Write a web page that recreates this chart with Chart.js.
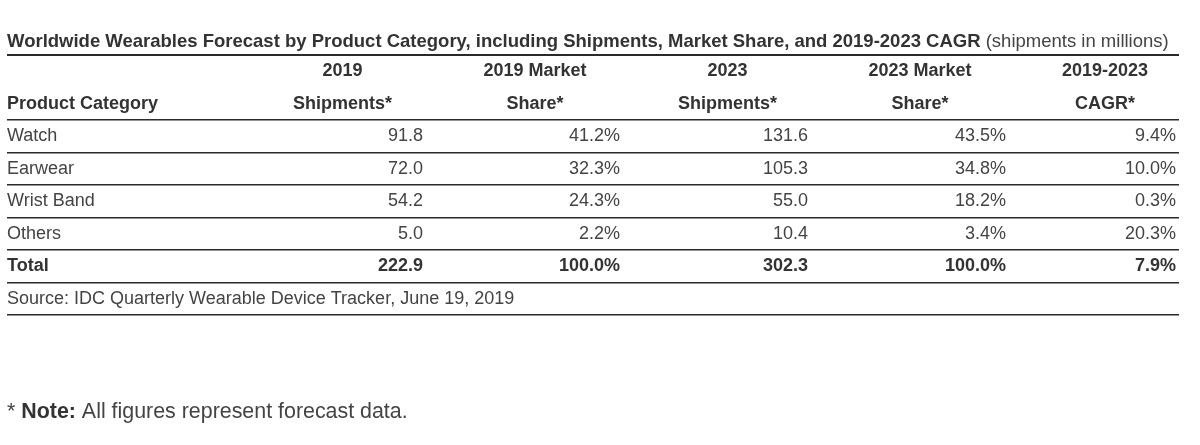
<!DOCTYPE html>
<html>
<head>
<meta charset="utf-8">
<script src="https://cdn.jsdelivr.net/npm/chart.js@4.4.1/dist/chart.umd.min.js"></script>
<style>
  html,body{margin:0;padding:0;background:#fff;}
  #wrap{width:1200px;height:445px;position:relative;}
</style>
</head>
<body>
<div id="wrap"><canvas id="c"></canvas></div>
<script>
// ---- data ----
const titleBold = 'Worldwide Wearables Forecast by Product Category, including Shipments, Market Share, and 2019-2023 CAGR';
const titleNormal = ' (shipments in millions)';
const firstHeader = 'Product Category';
const headerLine1 = ['2019', '2019 Market', '2023', '2023 Market', '2019-2023'];
const headerLine2 = ['Shipments*', 'Share*', 'Shipments*', 'Share*', 'CAGR*'];
const categories = ['Watch', 'Earwear', 'Wrist Band', 'Others'];
const shipments2019 = [91.8, 72.0, 54.2, 5.0];
const share2019 = [41.2, 32.3, 24.3, 2.2];
const shipments2023 = [131.6, 105.3, 55.0, 10.4];
const share2023 = [43.5, 34.8, 18.2, 3.4];
const cagr = [9.4, 10.0, 0.3, 20.3];
const totalLabel = 'Total';
const totalRow = [222.9, 100.0, 302.3, 100.0, 7.9];
const sourceText = 'Source: IDC Quarterly Wearable Device Tracker, June 19, 2019';
const noteStar = '* ';
const noteBold = 'Note:';
const noteText = ' All figures represent forecast data.';

// ---- layout (scale units along x) ----
const columns = [
  {values: shipments2019, pct: false, right: 416, center: 335.5},
  {values: share2019,     pct: true,  right: 613, center: 528},
  {values: shipments2023, pct: false, right: 801, center: 720.5},
  {values: share2023,     pct: true,  right: 999, center: 913},
  {values: cagr,          pct: true,  right: 1169, center: 1098}
];
const rowKeys = ['h1', 'h2', ...categories, totalLabel, 'source'];

const FONT = '"Liberation Sans", Arial, Helvetica, sans-serif';
const SIZE = 18;
const TITLE_SIZE = 18.5;
const NOTE_SIZE = 21.4;
const fmt = (v, pct) => v.toFixed(1) + (pct ? '%' : '');

const tablePlugin = {
  id: 'tableText',
  afterDraw(chart) {
    const {ctx, scales: {x, y}, chartArea} = chart;
    ctx.save();
    const left = x.getPixelForValue(0);
    // title
    ctx.textBaseline = 'alphabetic';
    ctx.textAlign = 'left';
    ctx.fillStyle = '#333';
    ctx.font = 'bold ' + TITLE_SIZE + 'px ' + FONT;
    ctx.fillText(titleBold, left, chartArea.top - 8);
    const w = ctx.measureText(titleBold).width;
    ctx.font = TITLE_SIZE + 'px ' + FONT;
    ctx.fillStyle = '#444';
    ctx.fillText(titleNormal, left + w, chartArea.top - 8);

    ctx.textBaseline = 'middle';
    // header
    const yh1 = y.getPixelForValue(0), yh2 = y.getPixelForValue(1);
    ctx.fillStyle = '#333';
    ctx.font = 'bold ' + SIZE + 'px ' + FONT;
    ctx.textAlign = 'left';
    ctx.fillText(firstHeader, left, yh2);
    ctx.textAlign = 'center';
    columns.forEach((c, i) => {
      const cx = x.getPixelForValue(c.center);
      ctx.fillText(headerLine1[i], cx, yh1);
      ctx.fillText(headerLine2[i], cx, yh2);
    });
    // body rows
    ctx.font = SIZE + 'px ' + FONT;
    ctx.fillStyle = '#444';
    categories.forEach((cat, r) => {
      const yy = y.getPixelForValue(r + 2);
      ctx.textAlign = 'left';
      ctx.fillText(cat, left, yy);
      ctx.textAlign = 'right';
      columns.forEach(c => ctx.fillText(fmt(c.values[r], c.pct), x.getPixelForValue(c.right), yy));
    });
    // total
    const yt = y.getPixelForValue(categories.length + 2);
    ctx.font = 'bold ' + SIZE + 'px ' + FONT;
    ctx.fillStyle = '#333';
    ctx.textAlign = 'left';
    ctx.fillText(totalLabel, left, yt);
    ctx.textAlign = 'right';
    columns.forEach((c, i) => ctx.fillText(fmt(totalRow[i], c.pct), x.getPixelForValue(c.right), yt));
    // source
    const ys = y.getPixelForValue(categories.length + 3);
    ctx.font = SIZE + 'px ' + FONT;
    ctx.fillStyle = '#444';
    ctx.textAlign = 'left';
    ctx.fillText(sourceText, left, ys);
    // note
    ctx.textBaseline = 'alphabetic';
    const yn = chartArea.bottom + 103;
    let nx = left;
    ctx.font = NOTE_SIZE + 'px ' + FONT;
    ctx.fillStyle = '#444';
    ctx.fillText(noteStar, nx, yn); nx += ctx.measureText(noteStar).width;
    ctx.font = 'bold ' + NOTE_SIZE + 'px ' + FONT;
    ctx.fillStyle = '#333';
    ctx.fillText(noteBold, nx, yn); nx += ctx.measureText(noteBold).width;
    ctx.font = NOTE_SIZE + 'px ' + FONT;
    ctx.fillStyle = '#444';
    ctx.fillText(noteText, nx, yn);
    ctx.restore();
  }
};

new Chart(document.getElementById('c'), {
  type: 'scatter',
  data: { labels: rowKeys, datasets: [{ data: [], pointRadius: 0 }] },
  options: {
    responsive: true,
    maintainAspectRatio: false,
    animation: false,
    events: [],
    layout: { padding: { top: 55, left: 7, right: 21, bottom: 130 } },
    plugins: { legend: { display: false }, tooltip: { enabled: false } },
    scales: {
      x: { type: 'linear', min: 0, max: 1172, display: false },
      y: {
        type: 'category',
        labels: rowKeys,
        offset: true,
        ticks: { display: false },
        border: { display: false },
        grid: {
          offset: true,
          drawTicks: false,
          tickLength: 0,
          color: ctx => ctx.index === 1 ? 'rgba(0,0,0,0)' : '#2a2a2a',
          lineWidth: ctx => ctx.index === 0 ? 2 : 1.6
        }
      }
    }
  },
  plugins: [tablePlugin]
});
</script>
</body>
</html>
